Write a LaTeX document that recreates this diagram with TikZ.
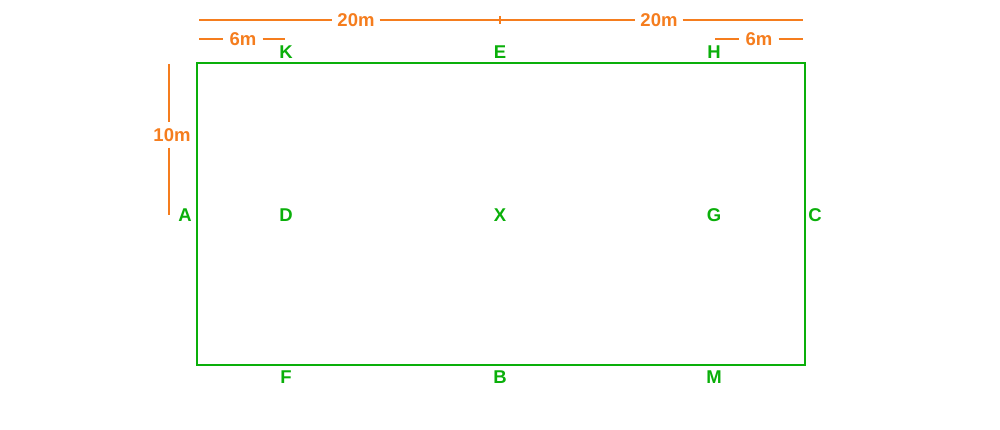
\documentclass[tikz,border=0pt]{standalone}
\usepackage{fontspec}
\setmainfont{Liberation Sans}
\usetikzlibrary{calc}
\definecolor{arena}{RGB}{10,175,10}
\definecolor{measure}{RGB}{245,125,30}

\begin{document}
\begin{tikzpicture}[x=1pt,y=-1pt,
      nodes={font=\fontsize{18.5}{20}\selectfont\bfseries},
      letter/.style={text=arena,inner sep=0pt},
      dim/.style={text=measure,inner xsep=5pt,inner ysep=0pt},
      dimline/.style={measure,line width=1.6pt}]
    \useasboundingbox (0,0) rectangle (1000,430);

    % arena
    \coordinate (nw) at (197,63);
    \coordinate (se) at (805,365);
    \draw[arena,line width=2.2pt] (nw) rectangle (se);

    % letters, middle row
    \node[letter](A) at (185,215){A};
    \node[letter,node distance=101pt,right of=A](D){D};
    \node[letter,node distance=214pt,right of=D](X){X};
    \node[letter,node distance=214pt,right of=X](G){G};
    \node[letter,node distance=101pt,right of=G](C){C};

    % top row
    \node[letter](K) at (286,52.5){K};
    \node[letter,node distance=214pt,right of=K](E){E};
    \node[letter,node distance=214pt,right of=E](H){H};

    % bottom row
    \node[letter](F) at (286,377){F};
    \node[letter,node distance=214pt,right of=F](B){B};
    \node[letter,node distance=214pt,right of=B](M){M};

    % 20m + 20m
    \coordinate (t0) at (199,20);
    \coordinate (t1) at (500,20);
    \coordinate (t2) at (803,20);
    \node[dim](w1) at (356,20){20m};
    \node[dim](w2) at (659,20){20m};
    \draw[dimline] (t0) -- (w1);
    \draw[dimline] (w1) -- (t1);
    \draw[dimline] (t1) -- (w2);
    \draw[dimline] (w2) -- (t2);
    \draw[dimline] ($(t1)+(0,-4)$) -- ($(t1)+(0,4)$);

    % 6m
    \coordinate (s0) at (199,39);
    \coordinate (s1) at (285,39);
    \node[dim,inner xsep=6pt](m1) at (243,39){6m};
    \draw[dimline] (s0) -- (m1);
    \draw[dimline] (m1) -- (s1);
    \coordinate (s2) at (715,39);
    \coordinate (s3) at (803,39);
    \node[dim,inner xsep=6pt](m2) at (759,39){6m};
    \draw[dimline] (s2) -- (m2);
    \draw[dimline] (m2) -- (s3);

    % 10m
    \coordinate (v0) at (169,64);
    \coordinate (v1) at (169,215);
    \node[dim,inner xsep=0pt,inner ysep=6pt](m10) at (172,135){10m};
    \draw[dimline] (v0) -- (v0 |- m10.north);
    \draw[dimline] (v1 |- m10.south) -- (v1);

\end{tikzpicture}
\end{document}
